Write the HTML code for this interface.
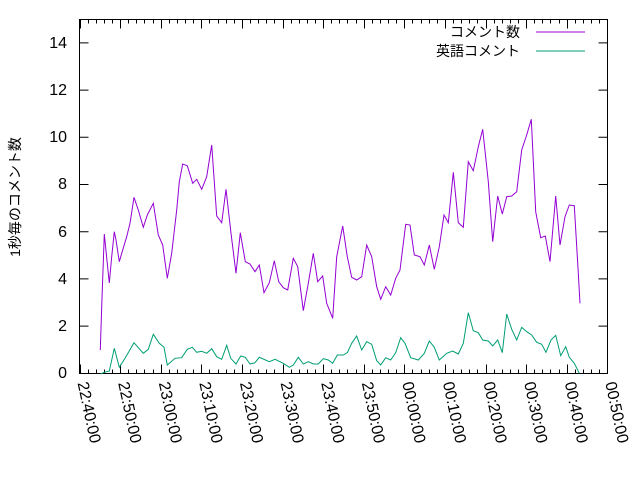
<!DOCTYPE html>
<html><head><meta charset="utf-8"><style>html,body{margin:0;padding:0;background:#fff}svg{display:block}text{font-family:"Liberation Sans","Noto Sans CJK JP",sans-serif;font-size:16px;fill:#000}.j{font-size:14px}</style></head><body>
<svg width="640" height="480" viewBox="0 0 640 480" xmlns="http://www.w3.org/2000/svg">
<rect width="640" height="480" fill="#fff"/>
<g stroke="#000" stroke-width="1" fill="none">
<rect x="79.5" y="19.5" width="528" height="354"/>
<path d="M79.5 42.9h9M79.5 90.1h9M79.5 137.3h9M79.5 184.5h9M79.5 231.7h9M79.5 278.9h9M79.5 326.1h9M607.5 42.9h-9M607.5 90.1h-9M607.5 137.3h-9M607.5 184.5h-9M607.5 231.7h-9M607.5 278.9h-9M607.5 326.1h-9"/>
</g>
<g id="ticks" stroke="#000" stroke-width="1"></g>
<g text-anchor="end">
<text x="67" y="48">14</text><text x="67" y="95">12</text><text x="67" y="142">10</text><text x="67" y="189">8</text><text x="67" y="237">6</text><text x="67" y="284">4</text><text x="67" y="331">2</text><text x="67" y="378">0</text>
</g>
<g id="xl"></g>
<text class="j" transform="translate(20,197) rotate(-90)" text-anchor="middle">1秒毎のコメント数</text>
<text class="j" x="520" y="37" text-anchor="end">コメント数</text>
<text class="j" x="520" y="56" text-anchor="end">英語コメント</text>
<line x1="536" y1="32" x2="585" y2="32" stroke="#9400d3"/>
<line x1="536" y1="51" x2="585" y2="51" stroke="#009e73"/>
<polyline fill="none" stroke="#9400d3" stroke-width="1" points="100.3,350 101.7,306.7 104.3,234 105.7,248 109.3,283 111.7,256.7 114.3,231.7 116,240 119.3,261.7 122.7,250 126.7,236.7 130,223.3 134,197.3 138.3,210 143.3,227.3 147.3,215 153.3,203.3 158.3,235 162.7,245 167.3,278.3 171.7,253.3 176.7,210 179.3,181.7 182.7,164 187.3,165.7 192.7,183.3 196.7,179.3 201.7,189.3 206.7,176.7 211.7,145 216.7,216 221.7,222.7 226,189.3 231,233.3 236,273.3 240.3,232.7 245.3,261.7 250,264 255,271.7 259.3,265 264,292.7 269.3,282.7 274.3,260.7 278.7,281.7 283.3,287.7 287.7,290 293.3,258.3 297.7,266.7 303.3,310.7 308.3,283.3 313.3,253.3 317.7,281.7 322.7,276 326.7,303.3 332.7,318.3 336.7,256.7 342.7,226 347.3,256.7 351.7,277.3 356.7,280 361.7,276.7 366.7,245 371.7,256.7 376.7,286.7 380.7,299.3 385.7,286.7 390.7,295 395.7,278.3 400,270 405.7,224.3 410,225 414.3,255 420,256.7 424.3,265 429.3,245 434.3,269.3 439.3,246.7 444,215 448.3,222.7 453.3,172.3 458.3,222.7 463.3,227.3 468.3,161.7 473.3,170.7 478.3,146.7 482.7,129.3 488.3,181.7 492.7,241.7 497.7,196 502.3,214 506.7,196.7 511.7,196 516.7,191.7 521.7,150 526.7,135 531.3,119.3 535.7,211.7 540.7,237.7 545.3,236 550,261.7 555.7,196 560,245 565,216.7 569.3,205 574.3,205.7 578.3,273.3 580,303.3"/>
<polyline fill="none" stroke="#009e73" stroke-width="1" points="100.7,374 103.3,372.7 109.3,371 114.3,348.3 119.3,367.3 125,358.3 134,342.7 143.3,353.3 148.3,349.3 153.3,334.3 159.3,343.3 164,347.3 167.3,365 175,358.3 181.7,357.7 187.3,349.3 192.3,347.3 196.7,352.3 201.7,351.3 206.7,353.3 211.7,348.7 216.7,356.7 221.7,359.3 226.7,345.3 230.7,358.3 236,364 240.7,356 245.3,357.3 250,364 255,362.7 259.3,357.3 269.3,361.7 275,359.3 283.3,363.3 289.3,367.3 293.3,365 298.3,357.3 303.3,364 308.3,361.7 313.3,364 318.3,364 323.3,358.7 328.3,360 332.7,363.3 337.3,355 343.3,355 347.3,352.7 351.7,343.3 356.7,336 361.7,350 366.7,341.7 371.7,344.3 376.7,360.7 380.7,365 385.7,357.7 390.7,360 395.7,352.7 400.7,337.7 405,343.3 410.7,357.7 418.3,360 424.3,353.3 429.3,341 434.3,347.3 439.3,360 446.7,353.3 452.7,351 458.3,354 463.3,343.3 468.3,312.7 473.3,330.7 478.3,332.7 482.7,340 488.3,341 492.7,346 497.7,340 502.3,352.7 506.7,314 511.7,329.3 516.7,340 521.7,327.3 526.7,331.7 531.7,335 536.7,342.3 541.7,344.3 546,352.3 551,340 555.7,335.3 560.7,355.7 565.7,346.7 569.3,357.3 574.3,363.3 579.3,373.3"/>
<script>
var t=document.getElementById('ticks'),xl=document.getElementById('xl'),ns='http://www.w3.org/2000/svg';
var labs=['22:40:00','22:50:00','23:00:00','23:10:00','23:20:00','23:30:00','23:40:00','23:50:00','00:00:00','00:10:00','00:20:00','00:30:00','00:40:00','00:50:00'];
var x0=79.5,sp=40.6;
for(var i=0;i<14;i++){for(var j=0;j<5;j++){var x=Math.round(x0+sp*i+sp*j/5)+0.5;if(x>608)continue;var L=(j==0)?9:4;
var l=document.createElementNS(ns,'path');l.setAttribute('d','M'+x+' 373.5v-'+L+'M'+x+' 19.5v'+L);t.appendChild(l);}
var tx=document.createElementNS(ns,'text');var xx=x0+sp*i;tx.setAttribute('transform','translate('+(xx-2)+',383) rotate(78)');tx.textContent=labs[i];xl.appendChild(tx);}
</script>
</svg>
</body></html>
